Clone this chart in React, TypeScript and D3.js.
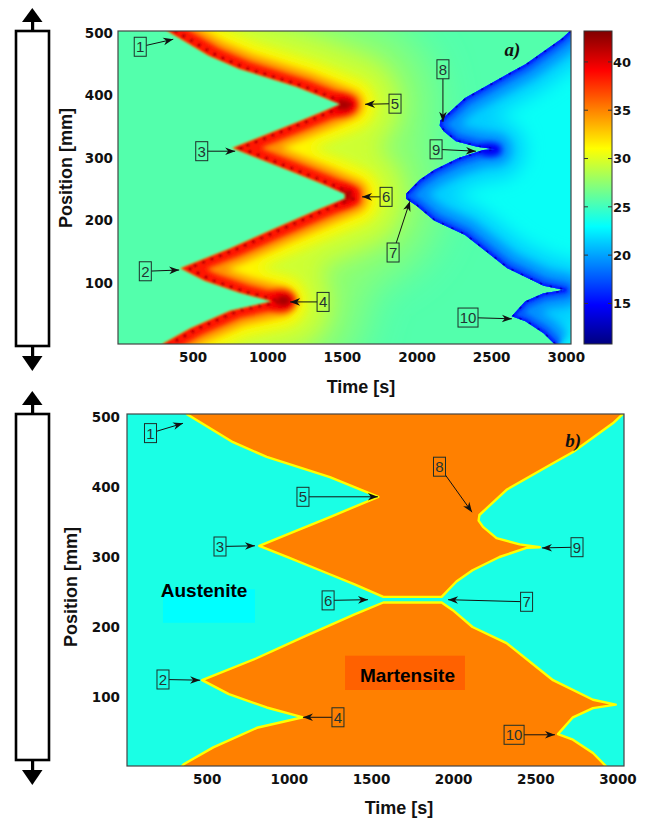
import { useEffect, useRef } from "react";
import * as d3 from "d3";

type Pt = [number, number];

const WIDTH = 649;
const HEIGHT = 821;

// axis ticks
const timeTicks = [500, 1000, 1500, 2000, 2500, 3000];
const positionTicks = [100, 200, 300, 400, 500];
const temperatureTicks = [15, 20, 25, 30, 35, 40];
const temperatureDomain: [number, number] = [10.8, 43.2];

// phase fronts, [time s, position mm]
const front1to5: Pt[] = [[380, 504], [660, 464], [865, 443], [1250, 414], [1545, 386]];
const front5to3: Pt[] = [[1545, 386], [1250, 357], [1040, 337], [820, 316]];
const front3to6: Pt[] = [[820, 316], [1000, 299], [1200, 280], [1400, 261], [1575, 243]];
const neckUpper: Pt[] = [[1575, 243], [1930, 243]];
const front7to9: Pt[] = [[1930, 243], [2020, 265], [2118, 281], [2282, 300], [2447, 313], [2528, 314]];
const front9to8: Pt[] = [[2528, 314], [2405, 318], [2264, 327], [2182, 343], [2155, 352]];
const front8up: Pt[] = [[2155, 352], [2160, 360], [2325, 396], [2608, 434], [2730, 450], [2972, 491], [3032, 504]];
const front10low: Pt[] = [[2935, 0], [2851, 20], [2729, 39], [2638, 47]];
const front10up: Pt[] = [[2638, 47], [2729, 71], [2851, 84], [2990, 89]];
const front7low: Pt[] = [[2990, 89], [2851, 96], [2608, 124], [2325, 177], [2118, 200], [1998, 224], [1930, 235]];
const neckLower: Pt[] = [[1930, 235], [1575, 235]];
const front6to2: Pt[] = [[1575, 235], [1400, 218], [1100, 187], [800, 155], [472, 124]];
const front2to4: Pt[] = [[472, 124], [635, 104], [865, 85], [1086, 71]];
const front4to0: Pt[] = [[1086, 71], [806, 56], [540, 28], [360, 4], [345, 0]];

// temperature map (a): levels in deg C
const ambientTemp = 25.6;
const coldCoreTemp = 23.2;
const hotSpots: Pt[] = [[1500, 385], [1505, 240], [1095, 72]];
const coldSpots: Pt[] = [[2490, 313]];

// phase colours (b), as positions on the jet map
const austeniteLevel = 0.4;
const martensiteLevel = 0.75;

// numbered callouts: box centre and arrow tip, [time s, position mm]
const calloutsA = [
  { n: "1", box: [149, 478], tip: [370, 490] },
  { n: "2", box: [183, 119], tip: [410, 121] },
  { n: "3", box: [561, 311], tip: [785, 311] },
  { n: "4", box: [1374, 70], tip: [1153, 70] },
  { n: "5", box: [1856, 387], tip: [1655, 386] },
  { n: "6", box: [1796, 238], tip: [1635, 238] },
  { n: "7", box: [1843, 149], tip: [1956, 231] },
  { n: "8", box: [2177, 442], tip: [2177, 358] },
  { n: "9", box: [2131, 314], tip: [2398, 311] },
  { n: "10", box: [2345, 45], tip: [2639, 43] },
];
const calloutsB = [
  { n: "1", box: [158, 477], tip: [356, 491] },
  { n: "2", box: [234, 125], tip: [460, 124] },
  { n: "3", box: [581, 315], tip: [794, 316] },
  { n: "4", box: [1299, 71], tip: [1086, 71] },
  { n: "5", box: [1086, 386], tip: [1542, 386] },
  { n: "6", box: [1239, 238], tip: [1482, 239] },
  { n: "7", box: [2447, 236], tip: [1969, 239] },
  { n: "8", box: [1917, 429], tip: [2115, 364] },
  { n: "9", box: [2754, 314], tip: [2541, 313] },
  { n: "10", box: [2371, 46], tip: [2620, 46] },
];

const phaseLabels = [
  { name: "Austenite", at: [484, 243], box: [234, 794, 206, 254], level: 0.375 },
  { name: "Martensite", at: [1722, 121], box: [1342, 2072, 110, 159], level: 0.78 },
];

function jet(v: number) {
  const c = (u: number) => Math.round(255 * Math.max(0, Math.min(1, u)));
  return d3
    .rgb(c(1.5 - Math.abs(4 * v - 3)), c(1.5 - Math.abs(4 * v - 2)), c(1.5 - Math.abs(4 * v - 1)))
    .formatHex();
}

const rev = (a: Pt[]) => [...a].reverse();

export default function App() {
  const svgRef = useRef<SVGSVGElement>(null);

  useEffect(() => {
    const svg = d3.select(svgRef.current);
    svg.selectAll("*").remove();
    const defs = svg.append("defs");

    const tempUnit = d3.scaleLinear().domain(temperatureDomain).range([0, 1]).clamp(true);
    const tempColor = (t: number) => jet(tempUnit(t));

    const blurs = new Map<number, string>();
    const blur = (sd: number) => {
      if (!blurs.has(sd)) {
        const id = `blur${blurs.size}`;
        defs
          .append("filter")
          .attr("id", id)
          .attr("filterUnits", "userSpaceOnUse")
          .attr("x", -100)
          .attr("y", -100)
          .attr("width", WIDTH + 200)
          .attr("height", HEIGHT + 200)
          .append("feGaussianBlur")
          .attr("stdDeviation", sd);
        blurs.set(sd, id);
      }
      return `url(#${blurs.get(sd)})`;
    };

    const marker = defs
      .append("marker")
      .attr("id", "arrow")
      .attr("markerUnits", "userSpaceOnUse")
      .attr("viewBox", "-1 -5 12 10")
      .attr("markerWidth", 12)
      .attr("markerHeight", 10)
      .attr("refX", 10)
      .attr("refY", 0)
      .attr("orient", "auto");
    marker.append("path").attr("d", "M0,-3.8 L10,0 L0,3.8 L3,0 Z").attr("fill", "#111");

    const xA = d3.scaleLinear().domain([0, 3035]).range([118, 571]);
    const yA = d3.scaleLinear().domain([2.7, 503.2]).range([344, 31]);
    const xB = d3.scaleLinear().domain([15, 3040]).range([127, 624]);
    const yB = d3.scaleLinear().domain([1.4, 504.3]).range([766, 414]);

    const lineOf = (x: d3.ScaleLinear<number, number>, y: d3.ScaleLinear<number, number>) =>
      d3
        .line<Pt>()
        .x((d) => x(d[0]))
        .y((d) => y(d[1]));

    const addClipRect = (id: string, x: d3.ScaleLinear<number, number>, y: d3.ScaleLinear<number, number>) => {
      const [x0, x1] = x.range();
      const [y1, y0] = y.range();
      defs.append("clipPath").attr("id", id).append("rect").attr("x", x0).attr("y", y0).attr("width", x1 - x0).attr("height", y1 - y0);
    };
    addClipRect("clipA", xA, yA);
    addClipRect("clipB", xB, yB);

    // ---------- panel a: temperature map ----------
    const lineA = lineOf(xA, yA);
    const panelA = svg.append("g").attr("clip-path", "url(#clipA)");
    panelA
      .append("rect")
      .attr("x", 118)
      .attr("y", 31)
      .attr("width", 453)
      .attr("height", 313)
      .attr("fill", tempColor(ambientTemp));

    const zigzag: Pt[] = [...front1to5, ...front5to3, ...front3to6, ...front6to2, ...front2to4, ...front4to0];
    const lead = 55;
    const shifted: Pt[] = zigzag.map(([t, p]) => [t - lead, p]);
    const hotArea: Pt[] = [
      ...shifted,
      [shifted[shifted.length - 1][0], -100],
      [3600, -100],
      [3600, 700],
      [shifted[0][0], 700],
    ];
    defs.append("clipPath").attr("id", "hotClip").append("path").attr("d", lineA(hotArea) + "Z");

    const hot = panelA.append("g").attr("filter", blur(1.2)).append("g").attr("clip-path", "url(#hotClip)");
    [
      { temp: 27.4, width: 175, sd: 20 },
      { temp: 29.5, width: 100, sd: 11 },
      { temp: 31.3, width: 52, sd: 6 },
      { temp: 34.5, width: 30, sd: 3.5 },
      { temp: 38.5, width: 15, sd: 2 },
    ].forEach((layer) => {
      hot
        .append("path")
        .attr("d", lineA(zigzag))
        .attr("fill", "none")
        .attr("stroke", tempColor(layer.temp))
        .attr("stroke-width", layer.width)
        .attr("stroke-linejoin", "round")
        .attr("stroke-linecap", "round")
        .attr("filter", blur(layer.sd));
    });
    hotSpots.forEach(([t, p]) => {
      hot
        .append("ellipse")
        .attr("cx", xA(t))
        .attr("cy", yA(p))
        .attr("rx", 15)
        .attr("ry", 11)
        .attr("fill", tempColor(39.5))
        .attr("filter", blur(3));
      hot
        .append("ellipse")
        .attr("cx", xA(t) + 2)
        .attr("cy", yA(p))
        .attr("rx", 7)
        .attr("ry", 5)
        .attr("fill", tempColor(42))
        .attr("filter", blur(2));
    });
    hot
      .append("path")
      .attr("d", lineA(zigzag))
      .attr("fill", "none")
      .attr("stroke", tempColor(41.5))
      .attr("stroke-width", 3.5)
      .attr("stroke-dasharray", "3 6")
      .attr("filter", blur(0.6));

    const coldFront: Pt[] = [
      ...rev(front8up),
      ...rev(front9to8),
      ...rev(front7to9),
      ...rev(front7low),
      ...rev(front10up),
      ...rev(front10low),
    ];
    const coldArea: Pt[] = [...coldFront, [2935, -100], [3600, -100], [3600, 700], [3032, 700]];
    defs.append("clipPath").attr("id", "coldClip").append("path").attr("d", lineA(coldArea) + "Z");

    const cold = panelA.append("g").attr("clip-path", "url(#coldClip)");
    cold
      .append("rect")
      .attr("x", 118)
      .attr("y", 0)
      .attr("width", 500)
      .attr("height", 400)
      .attr("fill", tempColor(coldCoreTemp));
    [
      { temp: 21.4, width: 60, sd: 9 },
      { temp: 19.4, width: 32, sd: 5 },
      { temp: 17.6, width: 14, sd: 2.5 },
      { temp: 15.8, width: 5, sd: 1 },
    ].forEach((layer) => {
      cold
        .append("path")
        .attr("d", lineA(coldFront))
        .attr("fill", "none")
        .attr("stroke", tempColor(layer.temp))
        .attr("stroke-width", layer.width)
        .attr("stroke-linejoin", "round")
        .attr("filter", blur(layer.sd));
    });
    coldSpots.forEach(([t, p]) => {
      cold
        .append("ellipse")
        .attr("cx", xA(t))
        .attr("cy", yA(p))
        .attr("rx", 11)
        .attr("ry", 6)
        .attr("fill", tempColor(14.5))
        .attr("filter", blur(3));
    });
    cold
      .append("path")
      .attr("d", lineA(coldFront))
      .attr("fill", "none")
      .attr("stroke", tempColor(13.2))
      .attr("stroke-width", 3.2)
      .attr("stroke-dasharray", "2.5 8")
      .attr("filter", blur(0.6));

    // ---------- panel b: phase map ----------
    const lineB = lineOf(xB, yB);
    const panelB = svg.append("g").attr("clip-path", "url(#clipB)");
    panelB
      .append("rect")
      .attr("x", 127)
      .attr("y", 414)
      .attr("width", 497)
      .attr("height", 352)
      .attr("fill", jet(martensiteLevel));
    const austenite: Pt[] = [
      [-200, 700],
      [380, 700],
      ...front1to5,
      ...front5to3,
      ...front3to6,
      ...neckUpper,
      ...front7to9,
      ...front9to8,
      ...front8up,
      [3400, 700],
      [3400, -100],
      [2935, -100],
      ...front10low,
      ...front10up,
      ...front7low,
      ...neckLower,
      ...front6to2,
      ...front2to4,
      ...front4to0,
      [345, -100],
      [-200, -100],
    ];
    panelB
      .append("path")
      .attr("d", lineB(austenite) + "Z")
      .attr("fill", jet(austeniteLevel))
      .attr("stroke", "#ffff00")
      .attr("stroke-width", 2.4)
      .attr("stroke-linejoin", "round");

    phaseLabels.forEach((label) => {
      const [t0, t1, p0, p1] = label.box;
      panelB
        .append("rect")
        .attr("x", xB(t0))
        .attr("y", yB(p1))
        .attr("width", xB(t1) - xB(t0))
        .attr("height", yB(p0) - yB(p1))
        .attr("fill", jet(label.level));
      panelB
        .append("text")
        .attr("x", xB(label.at[0]))
        .attr("y", yB(label.at[1]))
        .attr("text-anchor", "middle")
        .attr("font-family", "Liberation Sans, Arial, sans-serif")
        .attr("font-weight", 700)
        .attr("font-size", 19)
        .attr("fill", "#000")
        .text(label.name);
    });

    // ---------- callouts ----------
    const drawCallouts = (
      list: { n: string; box: number[]; tip: number[] }[],
      x: d3.ScaleLinear<number, number>,
      y: d3.ScaleLinear<number, number>
    ) => {
      const g = svg.append("g");
      list.forEach((c) => {
        const cx = x(c.box[0]);
        const cy = y(c.box[1]);
        const w = c.n.length > 1 ? 20 : 12;
        const h = 19;
        const tx = x(c.tip[0]);
        const ty = y(c.tip[1]);
        const dx = tx - cx;
        const dy = ty - cy;
        const s = Math.min(dx ? w / 2 / Math.abs(dx) : Infinity, dy ? h / 2 / Math.abs(dy) : Infinity);
        g.append("line")
          .attr("x1", cx + dx * s)
          .attr("y1", cy + dy * s)
          .attr("x2", tx)
          .attr("y2", ty)
          .attr("stroke", "#111")
          .attr("stroke-width", 1)
          .attr("marker-end", "url(#arrow)");
        g.append("rect")
          .attr("x", cx - w / 2)
          .attr("y", cy - h / 2)
          .attr("width", w)
          .attr("height", h)
          .attr("fill", "none")
          .attr("stroke", "#1d2e2a")
          .attr("stroke-width", 1);
        g.append("text")
          .attr("x", cx)
          .attr("y", cy + 5.5)
          .attr("text-anchor", "middle")
          .attr("font-family", "Liberation Sans, Arial, sans-serif")
          .attr("font-size", 15)
          .attr("fill", "#233533")
          .text(c.n);
      });
    };
    drawCallouts(calloutsA, xA, yA);
    drawCallouts(calloutsB, xB, yB);

    // panel tags
    [
      { tag: "a)", x: xA(2590), y: yA(463) },
      { tag: "b)", x: xB(2683), y: yB(457) },
    ].forEach((d) => {
      svg
        .append("text")
        .attr("x", d.x)
        .attr("y", d.y)
        .attr("font-family", "Liberation Serif, Times New Roman, serif")
        .attr("font-style", "italic")
        .attr("font-weight", 700)
        .attr("font-size", 19)
        .attr("fill", "#111")
        .text(d.tag);
    });

    // ---------- frames and axes ----------
    const styleAxis = (g: d3.Selection<SVGGElement, unknown, null, undefined>) => {
      g.select(".domain").remove();
      g.selectAll("text")
        .attr("font-family", "DejaVu Sans, sans-serif")
        .attr("font-weight", 700)
        .attr("font-size", 13.5)
        .attr("fill", "#111");
    };

    const frame = (
      x: d3.ScaleLinear<number, number>,
      y: d3.ScaleLinear<number, number>,
      yPad: number,
      barTop: number,
      barBottom: number,
      posLabel: [number, number],
      timeLabel: [number, number]
    ) => {
      const [x0, x1] = x.range();
      const [y1, y0] = y.range();
      svg
        .append("rect")
        .attr("x", x0)
        .attr("y", y0)
        .attr("width", x1 - x0)
        .attr("height", y1 - y0)
        .attr("fill", "none")
        .attr("stroke", "#444")
        .attr("stroke-width", 1.2);
      svg
        .append("g")
        .attr("transform", `translate(0, ${y1})`)
        .call(d3.axisBottom(x).tickValues(timeTicks).tickFormat(d3.format("d")).tickSize(0).tickPadding(8))
        .call(styleAxis);
      svg
        .append("g")
        .attr("transform", `translate(${x0}, 0)`)
        .call(d3.axisLeft(y).tickValues(positionTicks).tickFormat(d3.format("d")).tickSize(0).tickPadding(yPad))
        .call(styleAxis);
      svg
        .append("text")
        .attr("transform", `translate(${posLabel[0]}, ${posLabel[1]}) rotate(-90)`)
        .attr("text-anchor", "middle")
        .attr("font-family", "Liberation Sans, Arial, sans-serif")
        .attr("font-weight", 700)
        .attr("font-size", 18)
        .attr("fill", "#111")
        .text("Position [mm]");
      svg
        .append("text")
        .attr("x", timeLabel[0])
        .attr("y", timeLabel[1])
        .attr("text-anchor", "middle")
        .attr("font-family", "Liberation Sans, Arial, sans-serif")
        .attr("font-weight", 700)
        .attr("font-size", 18)
        .attr("fill", "#111")
        .text("Time [s]");

      // specimen sketch with load arrows
      const bar = svg.append("g").attr("fill", "#000");
      bar
        .append("rect")
        .attr("x", 16)
        .attr("y", barTop)
        .attr("width", 33)
        .attr("height", barBottom - barTop)
        .attr("fill", "#fff")
        .attr("stroke", "#000")
        .attr("stroke-width", 2.6);
      bar.append("rect").attr("x", 31).attr("y", barTop - 10).attr("width", 3.2).attr("height", 10);
      bar.append("path").attr("d", `M22,${barTop - 9} L42.5,${barTop - 9} L32.3,${barTop - 23} Z`);
      bar.append("rect").attr("x", 31).attr("y", barBottom).attr("width", 3.2).attr("height", 11);
      bar.append("path").attr("d", `M22,${barBottom + 10} L42.5,${barBottom + 10} L32.3,${barBottom + 25} Z`);
    };
    frame(xA, yA, 5, 31, 346, [72, 168], [361, 393]);
    frame(xB, yB, 7, 414, 760, [77, 587], [399, 814]);

    // ---------- colour bar ----------
    const yTemp = d3.scaleLinear().domain(temperatureDomain).range([344, 31]);
    const grad = defs
      .append("linearGradient")
      .attr("id", "jetBar")
      .attr("x1", 0)
      .attr("y1", 1)
      .attr("x2", 0)
      .attr("y2", 0);
    d3.range(0, 1.0001, 0.025).forEach((v) => {
      grad.append("stop").attr("offset", v).attr("stop-color", jet(v));
    });
    svg
      .append("rect")
      .attr("x", 584)
      .attr("y", 31)
      .attr("width", 28)
      .attr("height", 313)
      .attr("fill", "url(#jetBar)")
      .attr("stroke", "#333")
      .attr("stroke-width", 1);
    const cb = svg.append("g");
    temperatureTicks.forEach((t) => {
      cb.append("line").attr("x1", 584).attr("x2", 588).attr("y1", yTemp(t)).attr("y2", yTemp(t)).attr("stroke", "#333");
      cb.append("line").attr("x1", 608).attr("x2", 612).attr("y1", yTemp(t)).attr("y2", yTemp(t)).attr("stroke", "#333");
      cb.append("text")
        .attr("x", 613)
        .attr("y", yTemp(t))
        .attr("dy", "0.36em")
        .attr("font-family", "DejaVu Sans, sans-serif")
        .attr("font-weight", 700)
        .attr("font-size", 13)
        .attr("fill", "#111")
        .text(t);
    });
  }, []);

  return (
    <svg
      ref={svgRef}
      width={WIDTH}
      height={HEIGHT}
      style={{ position: "absolute", left: 0, top: 0, background: "#fff", display: "block" }}
    />
  );
}
